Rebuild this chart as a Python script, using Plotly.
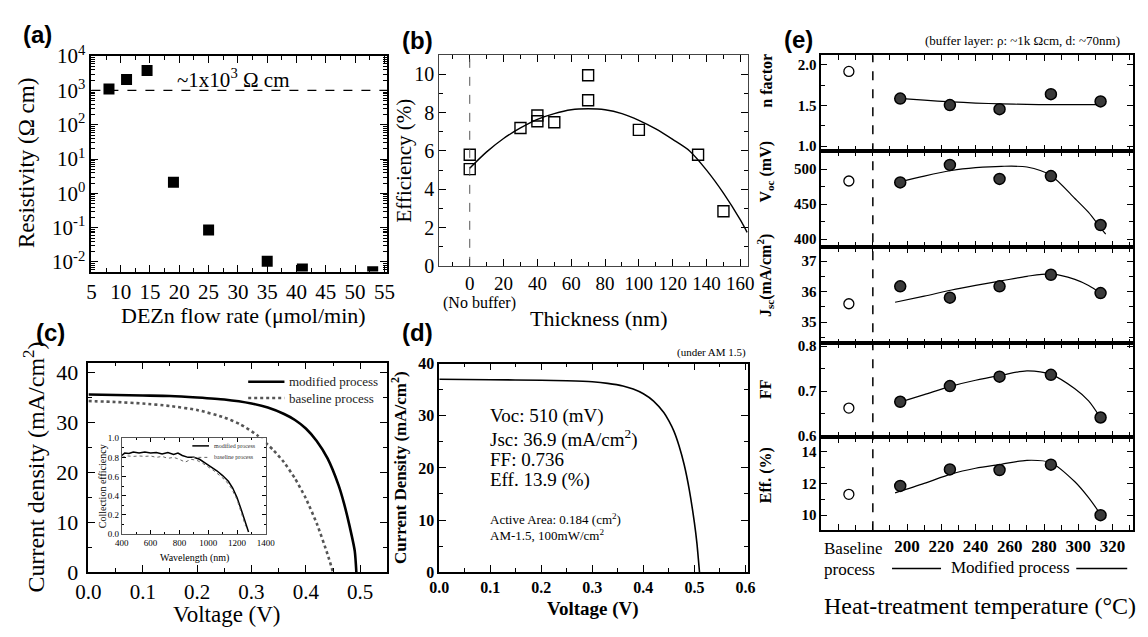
import plotly.graph_objects as go

W, H = 1148, 637
SERIF = "Liberation Serif, Times New Roman, serif"
SANS = "Liberation Sans, Arial, sans-serif"

# ---------------- (a) resistivity vs DEZn flow rate ----------------
flow_rate = [8, 11, 14.5, 19, 25, 35, 41, 53]
resistivity = [1.1e3, 2.1e3, 3.8e3, 2.1, 0.085, 0.0105, 0.0063, 0.0052]
ref_flow = [5, 55.5]
ref_resist = [1e3, 1e3]
log_ticks = [1e-2, 1e-1, 1, 10, 100, 1e3, 1e4]
log_labels = ["10<sup>-2</sup>", "10<sup>-1</sup>", "10<sup>0</sup>", "10<sup>1</sup>",
              "10<sup>2</sup>", "10<sup>3</sup>", "10<sup>4</sup>"]

# ---------------- (b) efficiency vs buffer thickness ----------------
thickness = [0, 0, 30, 40, 40, 50, 70, 70, 100, 135, 150]
efficiency = [5.8, 5.05, 7.2, 7.85, 7.55, 7.5, 9.95, 8.65, 7.1, 5.8, 2.85]
thick_fit = [0, 10, 20, 30, 40, 50, 60, 70, 80, 90, 100, 110, 120, 130, 140, 150, 160, 164]
eff_fit = [5.1, 5.95, 6.65, 7.2, 7.65, 7.95, 8.15, 8.2, 8.15, 7.95, 7.6, 7.15, 6.6, 6.0, 5.0, 3.8, 2.4, 1.75]

# ---------------- (c) J-V curves, modified vs baseline ----------------
v_mod = [0, 0.05, 0.1, 0.15, 0.2, 0.25, 0.3, 0.33, 0.36, 0.38, 0.40, 0.42, 0.44, 0.46, 0.47, 0.48, 0.49, 0.493]
j_mod = [35.6, 35.5, 35.4, 35.3, 35.0, 34.6, 33.8, 33.0, 31.7, 30.5, 28.8, 26.3, 22.8, 17.5, 13.9, 9.5, 4.3, 0]
v_base = [0, 0.05, 0.1, 0.15, 0.2, 0.25, 0.28, 0.31, 0.34, 0.36, 0.38, 0.40, 0.42, 0.44, 0.45]
j_base = [34.3, 34.1, 33.8, 33.3, 32.5, 31.0, 29.6, 27.5, 24.5, 22.0, 18.8, 14.8, 9.8, 3.6, 0]

# inset: collection efficiency spectra
wl_mod = [400, 420, 450, 480, 520, 560, 600, 640, 680, 720, 760, 790, 820, 860, 900, 940, 980,
          1020, 1060, 1100, 1140, 1170, 1200, 1230, 1260, 1280]
ce_mod = [0.82, 0.845, 0.84, 0.855, 0.845, 0.855, 0.845, 0.85, 0.835, 0.85, 0.83, 0.845, 0.82,
          0.80, 0.80, 0.78, 0.74, 0.70, 0.66, 0.61, 0.55, 0.48, 0.38, 0.25, 0.10, 0.02]
wl_base = [400, 440, 480, 520, 560, 600, 640, 680, 720, 760, 800, 840, 880, 920, 960, 1000,
           1040, 1080, 1120, 1160, 1200, 1230, 1260]
ce_base = [0.80, 0.815, 0.81, 0.815, 0.81, 0.815, 0.80, 0.81, 0.79, 0.80, 0.78, 0.75, 0.78,
           0.77, 0.74, 0.70, 0.66, 0.61, 0.56, 0.48, 0.36, 0.22, 0.08]

# ---------------- (d) best cell J-V ----------------
v_best = [0, 0.1, 0.2, 0.25, 0.3, 0.33, 0.36, 0.38, 0.40, 0.42, 0.44, 0.45, 0.46, 0.47, 0.48,
          0.49, 0.50, 0.505, 0.51]
j_best = [37.0, 36.9, 36.8, 36.7, 36.5, 36.2, 35.7, 35.1, 34.2, 32.8, 30.6, 29.0, 27.0, 24.2,
          20.6, 15.8, 9.5, 5.5, 0]

# ---------------- (e) parameters vs heat-treatment temperature ----------------
temp_base = [166]
temp_mod = [196, 225, 254, 284, 313]
n_base, n_mod = [1.92], [1.585, 1.505, 1.455, 1.64, 1.55]
voc_base, voc_mod = [483], [481, 506, 486, 490, 420]
jsc_base, jsc_mod = [35.6], [36.17, 35.8, 36.17, 36.55, 35.95]
ff_base, ff_mod = [0.662], [0.676, 0.711, 0.732, 0.736, 0.641]
effe_base, effe_mod = [11.31], [11.84, 12.88, 12.84, 13.18, 10.0]

fit_temp = [193, 210, 226, 240, 255, 270, 284, 298, 306, 313]
n_fit = [1.59, 1.565, 1.545, 1.53, 1.52, 1.513, 1.51, 1.51, 1.51, 1.515]
jsc_fit = [35.65, 35.85, 36.05, 36.2, 36.35, 36.5, 36.58, 36.4, 36.2, 35.95]
ff_fit = [0.672, 0.692, 0.711, 0.724, 0.735, 0.745, 0.737, 0.705, 0.678, 0.64]
effe_fit = [11.4, 12.0, 12.6, 12.95, 13.2, 13.45, 13.3, 12.1, 11.1, 10.05]
voc_fit_temp = [193, 210, 226, 240, 255, 270, 284, 298, 306, 313, 316]
voc_fit = [480, 490, 498, 502, 504, 503, 491, 458, 438, 416, 407]

temp_ticks = [160, 180, 200, 220, 240, 260, 280, 300, 320]
temp_labels = ["", "", "200", "220", "240", "260", "280", "300", "320"]


# ---------------- helpers ----------------
def dx(x0, x1):
    return [x0 / W, x1 / W]


def dy(top, bottom):
    return [1 - bottom / H, 1 - top / H]


def minor(dtick, tick0=0, length=4):
    return dict(ticks="inside", ticklen=length, tickwidth=1, tickcolor="black",
                dtick=dtick, tick0=tick0, showgrid=False)


def axis(dom, size=20, bold=False, lw=1.8, **kw):
    d = dict(domain=dom, showline=True, linecolor="black", linewidth=lw, mirror="ticks",
             ticks="inside", ticklen=7, tickwidth=1.3, tickcolor="black",
             showgrid=False, zeroline=False,
             tickfont=dict(family=SERIF, size=size, color="black",
                           weight="bold" if bold else "normal"))
    d.update(kw)
    return d


annotations = []


def label(x, y, text, size=20, family=SERIF, bold=False, angle=0, xanchor="center",
          yanchor="middle", color="black"):
    annotations.append(dict(
        x=x / W, y=1 - y / H, xref="paper", yref="paper", text=text, showarrow=False,
        textangle=angle, xanchor=xanchor, yanchor=yanchor,
        font=dict(family=family, size=size, color=color,
                  weight="bold" if bold else "normal")))


shapes = []


def key_line(x0, x1, y, color, width, dash="solid"):
    shapes.append(dict(type="line", xref="paper", yref="paper", x0=x0 / W, x1=x1 / W,
                       y0=1 - y / H, y1=1 - y / H,
                       line=dict(color=color, width=width, dash=dash)))


fig = go.Figure()

# ---------------- traces ----------------
# (a)
fig.add_trace(go.Scatter(x=ref_flow, y=ref_resist, mode="lines", xaxis="x", yaxis="y",
                         line=dict(color="black", width=1.3, dash="dash"), showlegend=False))
fig.add_trace(go.Scatter(x=flow_rate, y=resistivity, mode="markers", xaxis="x", yaxis="y",
                         marker=dict(symbol="square", size=11, color="black"), showlegend=False))

# (b)
fig.add_trace(go.Scatter(x=thick_fit, y=eff_fit, mode="lines", xaxis="x2", yaxis="y2",
                         line=dict(color="black", width=1.4, shape="spline", smoothing=0.8),
                         showlegend=False))
fig.add_trace(go.Scatter(x=thickness, y=efficiency, mode="markers", xaxis="x2", yaxis="y2",
                         marker=dict(symbol="square-open", size=11, color="black",
                                     line=dict(width=1.4)), showlegend=False))

# (c)
fig.add_trace(go.Scatter(x=v_mod, y=j_mod, mode="lines", xaxis="x3", yaxis="y3",
                         name="modified process", showlegend=False,
                         line=dict(color="black", width=2.6, shape="spline", smoothing=0.6)))
fig.add_trace(go.Scatter(x=v_base, y=j_base, mode="lines", xaxis="x3", yaxis="y3",
                         name="baseline process", showlegend=False,
                         line=dict(color="#555555", width=2.6, dash="dot", shape="spline",
                                   smoothing=0.6)))
# (c) inset
fig.add_trace(go.Scatter(x=wl_mod, y=ce_mod, mode="lines", xaxis="x4", yaxis="y4",
                         name="modified process", showlegend=False,
                         line=dict(color="black", width=1.5)))
fig.add_trace(go.Scatter(x=wl_base, y=ce_base, mode="lines", xaxis="x4", yaxis="y4",
                         name="baseline process", showlegend=False,
                         line=dict(color="#666666", width=1, dash="dot")))

# (d)
fig.add_trace(go.Scatter(x=v_best, y=j_best, mode="lines", xaxis="x5", yaxis="y5",
                         line=dict(color="black", width=1.6, shape="spline", smoothing=0.6),
                         showlegend=False))

# (e) five stacked panels
e_sets = [
    (n_base, n_mod, fit_temp, n_fit),
    (voc_base, voc_mod, voc_fit_temp, voc_fit),
    (jsc_base, jsc_mod, fit_temp, jsc_fit),
    (ff_base, ff_mod, fit_temp, ff_fit),
    (effe_base, effe_mod, fit_temp, effe_fit),
]
for k, (yb, ym, fx, fy) in enumerate(e_sets):
    xa, ya = f"x{6 + k}", f"y{6 + k}"
    fig.add_trace(go.Scatter(x=fx, y=fy, mode="lines", xaxis=xa, yaxis=ya,
                             line=dict(color="black", width=1.2, shape="spline", smoothing=0.8),
                             showlegend=False))
    fig.add_trace(go.Scatter(x=temp_mod, y=ym, mode="markers", xaxis=xa, yaxis=ya,
                             marker=dict(symbol="circle", size=11, color="#3a3a3a",
                                         line=dict(color="black", width=1.5)),
                             showlegend=False))
    fig.add_trace(go.Scatter(x=temp_base, y=yb, mode="markers", xaxis=xa, yaxis=ya,
                             marker=dict(symbol="circle-open", size=10, color="black",
                                         line=dict(width=1.3)),
                             showlegend=False))

# ---------------- axes ----------------
layout_axes = {}
# (a)
layout_axes["xaxis"] = axis(dx(80, 382), size=21, anchor="y", range=[5, 55.5], tick0=5, dtick=5,
                            minor=minor(2.5, 5))
layout_axes["yaxis"] = axis(dy(44, 269), size=21, anchor="x", type="log", range=[-2.28, 4],
                            tickmode="array", tickvals=log_ticks, ticktext=log_labels,
                            minor=dict(ticks="inside", ticklen=4, tickwidth=1,
                                       tickcolor="black", dtick="D1", showgrid=False))
# (b)
layout_axes["xaxis2"] = axis(dx(435, 750), size=19, lw=1.3, anchor="y2", range=[-18, 164.5],
                             tickmode="array", tickvals=[0, 20, 40, 60, 80, 100, 120, 140, 160],
                             minor=minor(10, 0), linecolor="#444444")
layout_axes["yaxis2"] = axis(dy(43, 263), size=20, lw=1.3, anchor="x2", range=[0, 11], dtick=2,
                             minor=minor(1, 0), linecolor="#444444")
# (c)
layout_axes["xaxis3"] = axis(dx(77, 382), size=21, anchor="y3", range=[0, 0.55], dtick=0.1,
                             tickformat=".1f", minor=minor(0.05, 0))
layout_axes["yaxis3"] = axis(dy(364, 583), size=22, anchor="x3", range=[0, 42], dtick=10,
                             minor=minor(5, 0), ticklabelstandoff=4)
# (c) inset
layout_axes["xaxis4"] = axis(dx(111, 258), size=9, lw=1, anchor="y4", range=[400, 1400],
                             dtick=200, ticklen=4, minor=minor(100, 0, 2), linecolor="#555555")
layout_axes["yaxis4"] = axis(dy(443, 543), size=9, lw=1, anchor="x4", range=[0, 1.0], dtick=0.2,
                             ticklen=4, tickformat=".1f", minor=minor(0.1, 0, 2),
                             linecolor="#555555")
# (d)
layout_axes["xaxis5"] = axis(dx(435, 750), size=16, bold=True, anchor="y5", range=[0, 0.605],
                             dtick=0.1, tickformat=".1f", minor=minor(0.05, 0))
layout_axes["yaxis5"] = axis(dy(365, 583), size=16, bold=True, anchor="x5", range=[0, 40],
                             dtick=10, minor=minor(5, 0))
# (e)
e_rows = [(43, 143), (143, 243), (243, 344), (344, 442), (442, 539)]
e_ranges = [[0.94, 2.12], [389, 526], [34.3, 37.47], [0.597, 0.806], [9.06, 14.9]]
e_dticks = [0.5, 50, 1, 0.1, 2]
e_formats = [".1f", "d", "d", ".1f", "d"]
for k in range(5):
    top, bot = e_rows[k]
    layout_axes[f"xaxis{6 + k}"] = axis(dx(825, 1143), size=17, bold=True, anchor=f"y{6 + k}",
                                        range=[150, 332], tickmode="array", tickvals=temp_ticks,
                                        ticktext=temp_labels, ticklen=6,
                                        showticklabels=(k == 4), minor=minor(10, 0, 5))
    layout_axes[f"yaxis{6 + k}"] = axis(dy(top, bot), size=15, bold=True, anchor=f"x{6 + k}",
                                        range=e_ranges[k], dtick=e_dticks[k], tick0=0,
                                        tickformat=e_formats[k], ticklen=6,
                                        minor=minor(e_dticks[k] / 2, 0, 4))

# ---------------- shapes ----------------
shapes += [
    dict(type="line", xref="x2", yref="y2", x0=0, x1=0, y0=0, y1=11,
         line=dict(color="#555555", width=1, dash="dash")),
    dict(type="line", xref="x10", yref="paper", x0=180, x1=180, y0=1 - 539 / H, y1=1 - 43 / H,
         line=dict(color="black", width=1.5, dash="dash")),
]
# rules either side of "Modified process"
key_line(897, 947, 579, "black", 1.5)
key_line(1085, 1137, 579, "black", 1.5)
# (c) key
key_line(240, 277, 384, "black", 2.6)
key_line(240, 277, 401, "#555555", 2.6, "dot")
# (c) inset key
key_line(183, 200, 451, "black", 1.5)
key_line(183, 200, 463, "#666666", 1, "dot")

# ---------------- text ----------------
# (a)
label(25, 21, "(a)", size=24, family=SANS, bold=True)
label(14, 156, "Resistivity (Ω cm)", size=23, angle=-90)
label(235, 315, "DEZn flow rate (μmol/min)", size=22)
label(225, 67, "~1x10<sup>3</sup> Ω cm", size=21)
# (b)
label(413, 28, "(b)", size=24, family=SANS, bold=True)
label(399, 153, "Efficiency (%)", size=21, angle=-90)
label(597, 318, "Thickness (nm)", size=22)
label(476, 302, "(No buffer)", size=16)
# (c)
label(38, 333, "(c)", size=24, family=SANS, bold=True)
label(21, 473, "Current density (mA/cm<sup>2</sup>)", size=24, angle=-90)
label(218, 627, "Voltage (V)", size=23)
label(91, 493, "Collection efficiency", size=10, angle=-90)
label(185, 568, "Wavelength (nm)", size=10)
label(280, 384, "modified process", size=13, xanchor="left", color="#222222")
label(280, 401, "baseline process", size=13, xanchor="left", color="#222222")
label(203, 451, "modified process", size=6, xanchor="left", color="#333333")
label(203, 463, "baseline process", size=6, xanchor="left", color="#333333")
# (d)
label(413, 333, "(d)", size=24, family=SANS, bold=True)
label(394, 474, "Current Density (mA/cm<sup>2</sup>)", size=17, bold=True, angle=-90)
label(592, 621, "Voltage (V)", size=19, bold=True)
label(750, 354, "(under AM 1.5)", size=11, xanchor="right")
label(485, 420, "Voc: 510 (mV)", size=19, xanchor="left")
label(485, 443, "Jsc: 36.9 (mA/cm<sup>2</sup>)", size=19, xanchor="left")
label(485, 465, "FF: 0.736", size=19, xanchor="left")
label(485, 487, "Eff. 13.9 (%)", size=19, xanchor="left")
label(485, 527, "Active Area: 0.184 (cm<sup>2</sup>)", size=13, xanchor="left")
label(485, 544, "AM-1.5, 100mW/cm<sup>2</sup>", size=13, xanchor="left")
# (e)
label(802, 27, "(e)", size=24, family=SANS, bold=True)
label(1030, 28, "(buffer layer: ρ: ~1k Ωcm, d: ~70nm)", size=13)
e_titles = ["n factor", "V<sub>oc</sub> (mV)", "J<sub>sc</sub>(mA/cm<sup>2</sup>)", "FF", "Eff. (%)"]
e_title_y = [70, 165, 273, 392, 482]
for t, yc in zip(e_titles, e_title_y):
    label(768, yc, t, size=16, bold=True, angle=-90)
label(826, 558, "Baseline", size=17, xanchor="left")
label(826, 580, "process", size=17, xanchor="left")
label(1018, 578, "Modified process", size=17)
label(987, 618, "Heat-treatment temperature (°C)", size=24)

fig.update_layout(
    width=W, height=H, margin=dict(l=0, r=0, t=0, b=0),
    paper_bgcolor="white", plot_bgcolor="white",
    font=dict(family=SERIF, color="black"),
    showlegend=False,
    annotations=annotations, shapes=shapes,
    **layout_axes,
)

fig.write_html("out.html")
